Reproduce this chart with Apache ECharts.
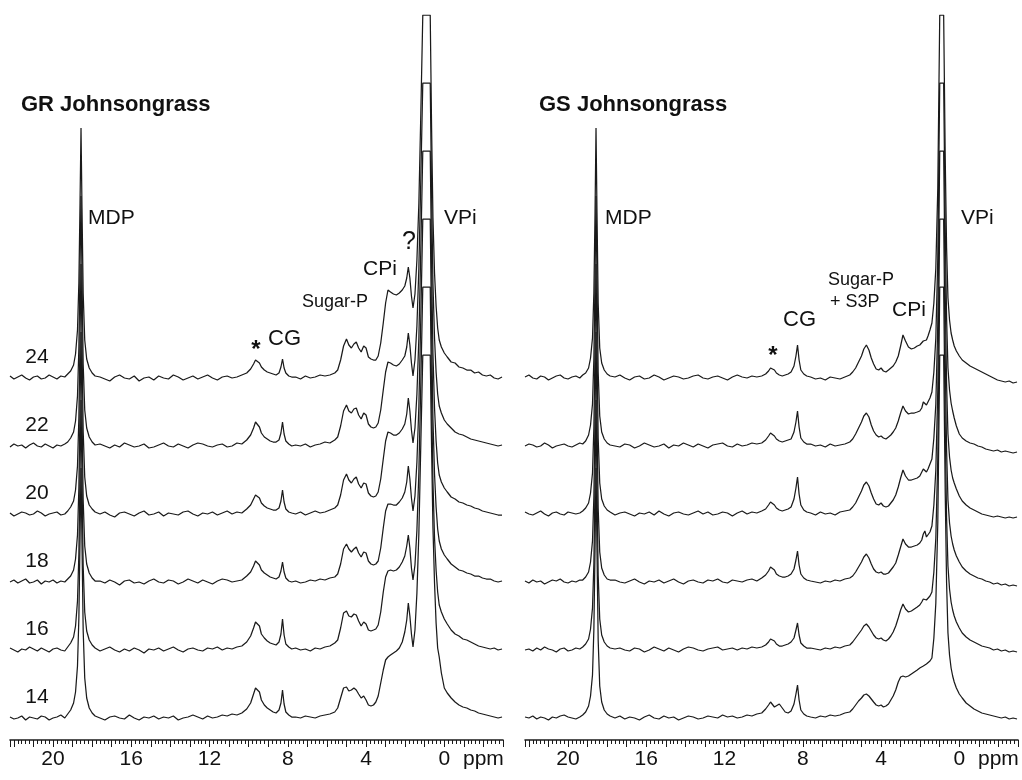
<!DOCTYPE html>
<html>
<head>
<meta charset="utf-8">
<title>31P NMR spectra – Johnsongrass</title>
<script src="https://cdn.jsdelivr.net/npm/echarts@6.0.0/dist/echarts.min.js"></script>
<style>
  html, body { margin: 0; padding: 0; background: #fff; }
  #chart { width: 1022px; height: 780px; }
</style>
</head>
<body>
<div id="chart"></div>
<script>
// Chemical-shift sampling points (ppm), shared by every spectrum
const ppmGrid = [
  22.2,22.0,21.8,21.6,21.4,21.2,21.0,20.8,20.6,20.4,20.2,20.0,19.8,19.6,19.4,
  19.25,19.1,18.95,18.85,18.75,18.68,18.62,18.57,18.52,18.46,18.38,18.28,18.15,18.0,17.85,
  17.6,17.35,17.1,16.85,16.6,16.35,16.1,15.85,15.6,15.35,15.1,14.85,14.6,14.35,14.1,13.85,13.6,13.35,13.1,12.85,12.6,12.35,12.1,11.85,11.6,11.35,11.1,10.85,10.6,10.35,
  10.1,9.9,9.75,9.65,9.55,9.45,9.35,9.2,9.05,8.9,8.75,8.6,
  8.45,8.35,8.27,8.19,8.1,7.95,7.8,
  7.6,7.35,7.1,6.85,6.6,6.35,6.1,5.85,5.6,
  5.45,5.3,5.15,5.0,4.88,4.75,4.62,4.5,4.38,4.25,4.12,4.0,3.88,3.75,3.62,3.5,3.38,
  3.25,3.12,3.0,2.88,2.75,2.6,2.45,2.3,2.15,2.02,1.92,1.84,1.76,1.68,1.6,1.5,1.4,1.3,1.2,
  1.1,1.0,0.9,0.8,0.72,0.65,0.58,0.5,0.42,0.34,0.26,0.15,0.0,
  -0.15,-0.35,-0.55,-0.75,-0.95,-1.15,-1.35,-1.55,-1.75,-1.95,-2.15,-2.35,-2.55,-2.75,-2.95
];

// Sample labels, bottom spectrum first
const sampleLabels = ['14', '16', '18', '20', '22', '24'];

// Axis tick labels (ppm)
const tickLabels = [20, 16, 12, 8, 4, 0];

// GR Johnsongrass intensities (VPi truncated at the plot ceiling)
const gr24 = [
  2,-1,1,3,0,-2,1,2,-1,0,3,1,-1,2,1,
  4,7,13,24,48,95,175,250,170,85,38,19,10,5,2,
  1,-1,-3,1,3,0,-1,2,-3,0,1,-2,2,0,-1,3,1,-2,0,2,-1,1,3,0,-2,1,2,0,1,3,
  5,9,14,18,19,15,11,8,6,5,4,3,
  5,11,19,10,5,2,1,
  1,-1,2,0,1,3,2,3,5,
  8,18,32,39,33,30,34,36,30,26,32,30,21,19,18,18,22,
  35,55,75,88,86,84,83,85,88,92,100,111,100,82,70,84,118,175,265,
  363,363,363,363,363,250,160,105,72,50,38,31,25,
  21,16,15,11,10,8,8,5,6,3,2,3,0,-1,1
];
const gr22 = [
  -1,2,0,1,-2,1,3,0,-1,2,0,-2,1,0,2,
  4,8,14,25,50,98,178,250,172,82,36,18,9,4,1,
  2,0,-2,1,-1,3,1,-1,0,2,-2,-1,1,3,0,-1,2,0,-2,1,3,2,0,-1,1,2,-1,0,3,2,
  6,11,18,24,25,19,13,9,7,5,4,4,
  6,13,24,12,5,2,0,
  1,0,2,-1,1,2,4,3,6,
  9,20,35,41,35,33,37,38,31,27,33,31,22,19,18,19,23,
  36,56,74,84,83,81,80,82,86,90,99,113,101,83,70,86,120,178,268,
  363,363,363,363,363,252,162,108,74,52,40,33,26,
  22,18,14,12,11,9,7,6,5,4,3,2,1,0,1
];
const gr20 = [
  1,-2,0,2,1,-1,0,3,1,-2,0,1,2,-1,0,
  3,7,13,24,48,96,176,250,171,83,37,18,9,5,2,
  0,2,-1,-3,1,2,0,-2,1,3,-1,0,2,-2,1,0,-1,2,3,0,-2,1,0,2,-1,1,3,0,2,1,
  5,9,15,19,20,16,11,8,6,5,4,4,
  6,13,24,12,5,2,1,
  0,2,-1,1,3,1,2,4,6,
  9,19,34,40,34,31,35,37,30,26,31,30,21,18,17,18,22,
  35,55,73,82,81,79,79,81,85,90,100,116,103,84,71,86,120,176,266,
  363,363,363,363,363,250,160,106,73,51,39,32,26,
  22,17,15,12,11,9,8,6,5,3,2,1,0,-1,-1
];
const gr18 = [
  0,2,-1,1,3,-1,0,2,-2,1,0,2,-1,1,0,
  3,6,12,23,47,94,174,250,170,82,36,18,9,4,1,
  1,-1,2,0,-3,1,2,-1,0,-2,1,3,0,-1,2,1,-2,0,3,1,-1,2,0,-2,1,3,2,0,1,2,
  6,10,16,21,22,17,12,9,7,5,4,3,
  5,11,20,10,4,1,0,
  1,-1,0,2,1,3,2,4,5,
  8,18,33,38,33,30,33,35,29,25,30,29,21,18,17,18,21,
  34,54,71,78,78,77,77,80,84,90,100,116,103,84,71,86,120,176,266,
  363,363,363,363,363,252,162,108,75,53,41,33,27,
  23,18,15,12,11,9,8,6,6,4,3,3,1,0,1
];
const gr16 = [
  2,0,-2,1,0,3,1,-1,2,0,-2,1,2,0,-1,
  3,7,13,24,49,96,176,250,172,84,38,19,10,5,2,
  -1,1,3,0,-2,1,-1,2,0,-3,1,0,2,-1,1,3,0,-2,1,2,0,-1,2,1,3,0,2,1,3,4,
  8,14,22,28,30,24,16,12,9,7,6,5,
  8,16,31,15,6,3,1,
  2,0,1,-1,2,1,3,4,7,
  10,22,37,39,34,33,36,35,29,24,28,26,20,19,20,21,25,
  38,58,73,79,80,79,80,83,88,94,104,115,102,82,70,85,120,178,268,
  363,363,363,363,363,255,168,112,80,58,45,38,31,
  26,20,16,14,11,10,8,6,4,3,2,1,2,0,1
];
const gr14 = [
  1,-1,0,2,-2,1,0,-1,2,1,-2,0,1,3,0,
  4,8,15,26,52,100,180,250,175,88,40,20,10,5,2,
  0,-2,1,2,0,-1,3,0,-2,1,0,2,-1,1,0,2,-2,0,1,3,1,-1,2,0,1,3,2,4,3,5,
  9,15,24,30,31,26,18,13,10,8,6,5,
  8,15,28,14,6,3,1,
  1,0,2,1,0,2,3,4,6,
  10,20,30,31,27,28,30,28,24,20,22,18,13,12,13,16,22,
  35,48,58,61,63,65,67,70,76,86,98,115,102,84,71,88,125,185,275,
  363,363,363,363,363,270,190,135,95,70,61,45,30,
  25,20,16,13,11,10,8,7,5,4,3,2,1,0,1
];

// GS Johnsongrass intensities
const gs24 = [
  1,3,0,-1,2,1,-2,0,2,3,0,-1,1,2,0,
  3,5,10,20,40,85,165,250,165,75,30,15,8,4,2,
  1,3,0,-2,1,2,-1,0,3,1,-2,0,2,1,-1,0,2,3,0,-1,1,2,0,-2,1,3,1,0,2,1,
  2,4,7,10,11,8,5,3,2,3,4,6,
  12,22,33,18,8,4,2,
  1,-1,0,-2,1,0,-1,1,3,
  6,10,16,22,29,33,28,20,14,9,8,10,7,6,8,10,12,
  16,22,32,43,37,31,29,30,32,33,35,37,36,38,42,48,55,75,110,
  190,363,363,363,220,130,80,58,45,38,32,27,22,
  18,15,12,10,8,6,4,2,0,-2,-3,-4,-3,-5,-4
];
const gs22 = [
  0,2,1,-1,0,3,1,-2,0,1,2,0,-1,1,3,
  2,5,11,21,42,87,168,250,166,74,30,14,7,3,1,
  0,-1,2,1,-2,0,3,1,-1,0,2,-2,1,0,3,1,-1,2,0,-2,1,2,3,0,-1,2,0,1,3,2,
  3,6,10,13,14,10,7,5,4,5,6,7,
  14,24,35,19,8,4,2,
  2,0,1,-1,2,0,1,2,4,
  7,12,18,24,30,33,29,21,15,11,9,10,8,7,9,11,14,
  18,25,33,40,35,32,33,33,34,35,38,44,46,41,43,48,54,74,108,
  188,363,363,363,218,128,78,56,43,35,28,20,12,
  8,5,3,2,0,-1,-3,-4,-5,-4,-6,-5,-6,-7,-6
];
const gs20 = [
  2,0,-1,1,3,0,-2,1,2,0,-1,2,1,0,1,
  3,6,11,21,41,86,166,250,166,76,31,15,8,4,2,
  -1,1,2,0,-2,1,0,2,-1,3,0,-2,1,2,0,-1,1,3,0,2,-1,0,2,1,-2,1,3,0,2,1,
  3,5,9,12,13,9,6,4,3,4,5,7,
  15,26,37,20,9,4,2,
  1,-1,2,0,1,-1,2,3,4,
  7,11,17,23,29,32,28,21,15,10,9,11,8,7,8,11,14,
  19,27,36,44,38,34,34,35,36,38,40,45,47,42,45,50,55,76,110,
  190,363,363,363,220,130,80,57,44,36,31,25,18,
  13,9,6,4,2,0,-1,-2,-3,-2,-3,-4,-3,-4,-3
];
const gs18 = [
  1,-1,2,0,1,-2,0,2,1,3,0,-1,1,0,2,
  2,5,10,20,41,85,166,250,164,74,30,14,7,3,2,
  2,0,-1,1,3,0,-2,1,0,2,-1,1,3,0,-2,1,2,0,-1,2,1,3,0,-1,2,1,0,2,3,1,
  4,7,11,15,16,12,8,6,5,5,6,8,
  13,22,31,17,8,4,2,
  1,0,-1,1,0,2,1,3,4,
  6,10,15,20,25,28,24,18,13,10,9,10,8,8,9,12,15,
  19,27,35,43,38,35,35,36,37,39,42,48,51,45,46,50,56,77,112,
  192,363,363,363,222,132,82,59,46,38,32,26,20,
  15,11,8,6,4,3,1,0,-2,-1,-3,-2,-4,-3,-4
];
const gs16 = [
  0,1,-1,2,0,3,1,0,-2,1,2,-1,0,2,1,
  3,6,11,21,42,86,167,250,165,75,31,15,8,4,2,
  1,2,0,-1,2,1,-2,0,3,1,-1,2,0,-2,1,3,2,0,-1,1,2,3,0,1,2,0,2,1,3,2,
  3,5,8,11,12,9,6,4,4,5,6,8,
  12,20,27,15,7,4,2,
  2,1,0,2,1,3,2,4,5,
  8,12,16,20,24,26,23,19,15,12,11,12,10,9,11,14,18,
  24,32,40,46,41,38,39,41,43,45,48,51,53,50,52,54,58,78,112,
  192,363,363,363,222,132,84,61,48,40,34,28,22,
  17,13,10,8,6,4,3,2,0,1,-1,0,-2,-1,-2
];
const gs14 = [
  1,0,2,-1,1,0,-2,1,0,2,3,1,0,-1,1,
  3,6,12,22,43,88,170,250,168,78,32,16,8,4,2,
  0,2,-1,1,0,-2,1,3,0,-1,2,0,1,-2,0,2,1,-1,0,2,1,0,3,1,2,0,1,3,2,4,
  5,9,13,16,15,11,12,14,10,6,5,7,
  14,24,33,18,8,4,2,
  1,0,2,1,3,2,3,5,6,
  9,13,17,20,23,24,22,19,16,13,12,13,11,12,14,18,22,
  28,36,41,42,41,42,44,46,48,50,51,52,53,54,55,57,60,80,115,
  195,363,363,363,225,135,85,63,50,42,36,30,24,
  20,15,12,9,7,5,4,3,2,1,0,1,-1,0,-1
];

// ---- layout ----
const STEP = 68;                 // vertical offset between stacked spectra
const PLOT_TOP = 15, PLOT_H = 725;
const FONT = '"Liberation Sans", Arial, Helvetica, sans-serif';
const INK = '#1a1a1a';

const panels = [
  { title: 'GR Johnsongrass', left: 10,  traces: [gr14, gr16, gr18, gr20, gr22, gr24] },
  { title: 'GS Johnsongrass', left: 525, traces: [gs14, gs16, gs18, gs20, gs22, gs24] }
];
const PANEL_W = 493;

const grid = [], xAxis = [], yAxis = [], series = [];
panels.forEach((p, pi) => {
  grid.push({
    left: p.left, width: PANEL_W, top: PLOT_TOP, height: PLOT_H,
    containLabel: false, outerBoundsMode: 'none'
  });
  xAxis.push({
    gridIndex: pi, type: 'value', inverse: true,
    min: -3, max: 22.2, interval: 1,
    axisLine: { show: true, onZero: false, lineStyle: { color: INK, width: 1.6 } },
    axisTick: { show: true, length: 7, lineStyle: { color: INK, width: 1 } },
    minorTick: { show: true, splitNumber: 5, length: 4, lineStyle: { color: INK, width: 1 } },
    splitLine: { show: false },
    axisLabel: {
      interval: 0, margin: 9, color: '#111', fontSize: 21, fontFamily: FONT,
      formatter: v => {
        if (Math.abs(v + 2) < 1e-6) return 'ppm';
        const hit = tickLabels.find(t => Math.abs(t - v) < 1e-6);
        return hit === undefined ? '' : String(hit);
      }
    }
  });
  yAxis.push({ gridIndex: pi, type: 'value', min: -22, max: 703, show: false });
  p.traces.forEach((vals, k) => {
    series.push({
      type: 'line', xAxisIndex: pi, yAxisIndex: pi,
      name: p.title + ' ' + sampleLabels[k],
      data: ppmGrid.map((ppm, i) => [ppm, vals[i] + STEP * k]),
      showSymbol: false, symbol: 'none', smooth: false, clip: true,
      lineStyle: { color: INK, width: 1.25 },
      emphasis: { disabled: true }, silent: true
    });
  });
});

// Baseline pixel row of spectrum k
const baseY = k => PLOT_TOP + PLOT_H - (22 + STEP * k);

const txt = (text, x, y, size, opts = {}) => ({
  type: 'text', x, y, silent: true,
  style: {
    text, fill: '#111',
    font: (opts.bold ? 'bold ' : '') + size + 'px ' + FONT,
    align: opts.align || 'left', verticalAlign: 'middle'
  }
});

const graphic = [
  txt('GR Johnsongrass', 21, 105, 22, { bold: true }),
  txt('MDP', 88, 218, 21),
  txt('VPi', 444, 218, 21),
  txt('?', 409, 242, 25, { align: 'center' }),
  txt('CPi', 363, 269, 21),
  txt('Sugar-P', 302, 302, 18),
  txt('*', 256, 350, 24, { align: 'center', bold: true }),
  txt('CG', 268, 339, 22),

  txt('GS Johnsongrass', 539, 105, 22, { bold: true }),
  txt('MDP', 605, 218, 21),
  txt('VPi', 961, 218, 21),
  txt('Sugar-P', 828, 280, 18),
  txt('+ S3P', 830, 302, 18),
  txt('CPi', 892, 310, 21),
  txt('CG', 783, 320, 22),
  txt('*', 773, 356, 24, { align: 'center', bold: true })
];
sampleLabels.forEach((lab, k) => graphic.push(txt(lab, 37, baseY(k) - 21, 21, { align: 'center' })));

const chart = echarts.init(document.getElementById('chart'), null, { renderer: 'canvas' });
chart.setOption({
  animation: false,
  backgroundColor: '#ffffff',
  grid, xAxis, yAxis, series, graphic
});
</script>
</body>
</html>
